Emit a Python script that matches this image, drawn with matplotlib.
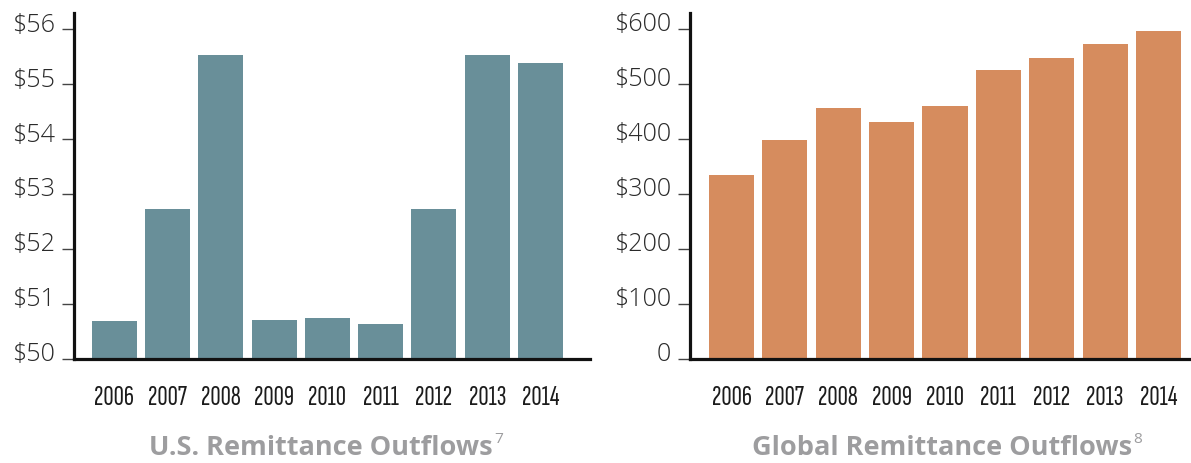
import matplotlib
matplotlib.use("Agg")
import matplotlib.pyplot as plt
import matplotlib.font_manager as fm
import matplotlib.transforms as mtransforms
from matplotlib.textpath import TextPath
from matplotlib.ticker import FixedLocator

years = ["2006", "2007", "2008", "2009", "2010", "2011", "2012", "2013", "2014"]
us_outflows = [50.70, 52.73, 55.53, 50.71, 50.75, 50.64, 52.73, 55.53, 55.39]
global_outflows = [335, 399, 457, 431, 460, 526, 548, 573, 597]

us_ticks = [50, 51, 52, 53, 54, 55, 56]
us_tick_labels = ["\\$50", "\\$51", "\\$52", "\\$53", "\\$54", "\\$55", "\\$56"]
gl_ticks = [0, 100, 200, 300, 400, 500, 600]
gl_tick_labels = ["0", "\\$100", "\\$200", "\\$300", "\\$400", "\\$500", "\\$600"]

us_title = "U.S. Remittance Outflows"
us_note = "7"
gl_title = "Global Remittance Outflows"
gl_note = "8"

W, H = 1191, 463
DPI = 100
fig = plt.figure(figsize=(W / DPI, H / DPI), dpi=DPI)

weight_by_file = {f.fname: f.weight for f in fm.fontManager.ttflist}


def font_weight_found(name, weight):
    try:
        path = fm.findfont(fm.FontProperties(family=name, weight=weight),
                           fallback_to_default=False)
    except Exception:
        return None
    w = weight_by_file.get(path, 400)
    try:
        return int(w)
    except Exception:
        return 400


def extents(text, family, weight="normal"):
    fp = fm.FontProperties(family=family, weight=weight)
    return TextPath((0, 0), text, size=100, prop=fp).get_extents()


def pt_for_height(text, family, px, weight="normal"):
    e = extents(text, family, weight)
    return px / (e.height / 100.0) * 72.0 / DPI


def pt_for_width(text, family, px, weight="normal"):
    e = extents(text, family, weight)
    return px / (e.width / 100.0) * 72.0 / DPI


# year labels: regular-weight condensed face, digits ~39px wide, ~19px tall
YEAR_W = 400
cands = ["Roboto Condensed", "Sofia Sans Condensed", "Encode Sans Condensed",
         "Saira SemiCondensed", "Liberation Sans Narrow", "PT Sans Narrow",
         "Sofia Sans Extra Condensed", "Open Sans Condensed", "Roboto"]
target_ratio = 39.0 / 19.0
best, best_err = "Roboto", 1e9
for c in cands:
    w = font_weight_found(c, YEAR_W)
    if w is None or w > 450 or w < 300:
        continue
    e = extents("2006", c, YEAR_W)
    err = abs(e.width / e.height - target_ratio)
    if err < best_err:
        best, best_err = c, err
year_font = best
year_size = pt_for_height("2006", year_font, 19.0, YEAR_W)
e = extents("2006", year_font, YEAR_W)
year_w = e.width / 100 * year_size * DPI / 72
if year_w > 44:
    year_size *= 44 / year_w

tick_font = "Open Sans"
TICK_W = 300
tick_size = pt_for_height("56", tick_font, 18.5, TICK_W)

title_font = "Open Sans"
TITLE_W = 700
title_gray = "#9d9d9f"
title_size = pt_for_width(us_title, title_font, 341.0, TITLE_W)
note_size = pt_for_height("7", title_font, 11.0)

px = lambda v: v / DPI


def make_panel(rect, values, color, yticks, ylabels, ylim, xlim):
    ax = fig.add_axes(rect)
    x = list(range(len(years)))
    ax.bar(x, [v - ylim[0] for v in values], bottom=ylim[0], width=0.845,
           color=color, zorder=1, linewidth=0)
    ax.set_xlim(*xlim)
    ax.set_ylim(*ylim)
    for s in ["top", "right"]:
        ax.spines[s].set_visible(False)
    for s in ["left", "bottom"]:
        ax.spines[s].set_linewidth(2.3)
        ax.spines[s].set_color("#111111")
        ax.spines[s].set_zorder(3)
        ax.spines[s].set_capstyle("projecting")
    ax.yaxis.set_major_locator(FixedLocator(yticks))
    ax.set_yticklabels(ylabels, fontfamily=tick_font, fontsize=tick_size,
                       fontweight=TICK_W, color="#2a2a2a")
    ax.tick_params(axis="y", length=8.6, width=1.0, color="#444444", pad=5)
    ax.set_xticks(x)
    ax.set_xticklabels(years, fontfamily=year_font, fontsize=year_size,
                       fontweight=YEAR_W, color="#1c1c1c")
    ax.tick_params(axis="x", length=0, pad=46 * 72 / DPI)
    for lab in ax.get_xticklabels():
        lab.set_va("baseline")
    off = mtransforms.ScaledTranslation(0, -px(2.2), fig.dpi_scale_trans)
    for lab in ax.get_yticklabels():
        lab.set_va("baseline")
        lab.set_transform(lab.get_transform() + off)
    return ax


ax1 = make_panel([74 / W, 104 / H, 516 / W, 346 / H], us_outflows, "#698f99",
                 us_ticks, us_tick_labels, (50, 56.3), (-0.76, 8.93))
ax2 = make_panel([690 / W, 104 / H, 501 / W, 346 / H], global_outflows, "#d68c5e",
                 gl_ticks, gl_tick_labels, (0, 629.6), (-0.778, 8.61))


def title(x_left, text, note):
    e = extents(text, title_font, TITLE_W)
    scale = title_size * DPI / 72 / 100
    fig.text(x_left / W, 1 - 455 / H, text, ha="left", va="baseline",
             fontfamily=title_font, fontweight=TITLE_W, fontsize=title_size,
             color=title_gray)
    x_end = x_left + e.x1 * scale
    fig.text((x_end + 2) / W, 1 - 443 / H, note, ha="left", va="baseline",
             fontfamily=title_font, fontsize=note_size, color=title_gray)


title(149, us_title, us_note)
title(752, gl_title, gl_note)

fig.savefig("out.png", dpi=DPI)
